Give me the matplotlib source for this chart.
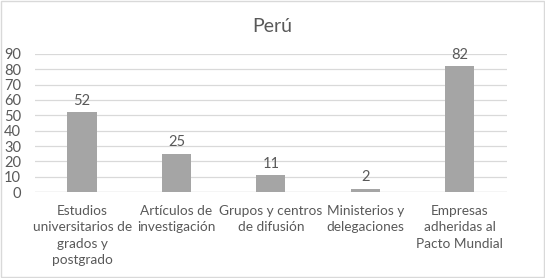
import matplotlib
matplotlib.use("Agg")
import matplotlib.pyplot as plt
from matplotlib.patches import Rectangle

plt.rcParams['font.family'] = ['Lato', 'DejaVu Sans']

categories = ["Estudios\nuniversitarios de\ngrados y\npostgrado",
              "Artículos de\ninvestigación",
              "Grupos y centros\nde difusión",
              "Ministerios y\ndelegaciones",
              "Empresas\nadheridas al\nPacto Mundial"]
values = [52, 25, 11, 2, 82]
yticks = [0, 10, 20, 30, 40, 50, 60, 70, 80, 90]

text_col = "#595959"

fig = plt.figure(figsize=(5.45, 2.78), dpi=100)
ax = fig.add_axes([0.064, 0.309, 0.866, 0.497])

x = range(len(values))
bars = ax.bar(x, values, width=0.31, color="#A5A5A5", zorder=3)
for xi, v in zip(x, values):
    ax.text(xi, v + 3, str(v), ha="center", va="bottom", fontsize=10.5, color=text_col)

ax.set_xlim(-0.5, 4.5)
ax.set_ylim(0, 90)
ax.set_yticks(yticks)
ax.set_xticks(list(x))
ax.set_xticklabels(categories, fontsize=9.8, color=text_col, linespacing=1.45)
ax.tick_params(axis="y", labelsize=10.5, labelcolor=text_col, length=0, pad=10)
ax.tick_params(axis="x", length=0, pad=9)
ax.grid(axis="y", color="#D9D9D9", linewidth=0.9, zorder=0)
for s in ax.spines.values():
    s.set_visible(False)
ax.axhline(0, color="#D9D9D9", linewidth=0.9, zorder=1)

fig.text(0.5, 0.905, "Perú", ha="center", va="center", fontsize=14, color=text_col)
fig.patches.append(Rectangle((0.002, 0.004), 0.996, 0.992, transform=fig.transFigure,
                             fill=False, edgecolor="#D9D9D9", linewidth=1))

fig.savefig("out.png", dpi=100)
